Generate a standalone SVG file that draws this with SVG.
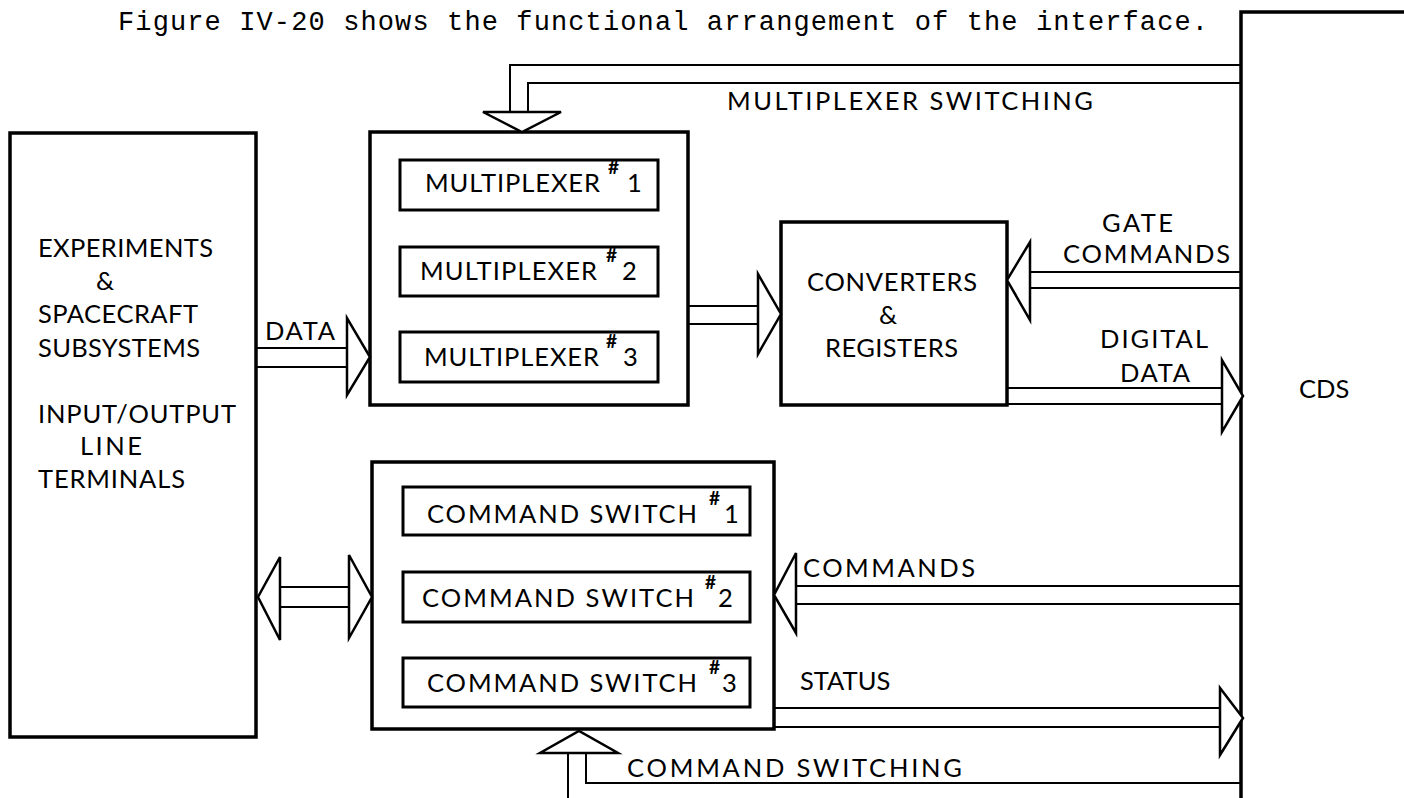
<svg xmlns="http://www.w3.org/2000/svg" width="1404" height="798" viewBox="0 0 1404 798">
<style>
.box{fill:none;stroke:#000;stroke-width:3.5}
.ibox{fill:none;stroke:#000;stroke-width:3}
.ln{fill:none;stroke:#000;stroke-width:2}
.tri{fill:#fff;stroke:#000;stroke-width:2.5;stroke-linejoin:miter}
.lbl{font-family:Lato,"Liberation Sans",sans-serif;font-size:25.5px;fill:#000}
.sup{font-size:19px;font-weight:bold}
.title{font-family:"Liberation Mono","Courier New",monospace;font-size:27px;fill:#000}
</style>
<rect width="1404" height="798" fill="#fff"/>
<text class="title" x="118" y="30" textLength="1090" lengthAdjust="spacing">Figure IV-20 shows the functional arrangement of the interface.</text>

<g id="experiments">
<rect class="box" x="10" y="133" width="246" height="604"/>
<text class="lbl" x="38" y="257" textLength="175" lengthAdjust="spacing">EXPERIMENTS</text>
<text class="lbl" x="105" y="290" text-anchor="middle">&amp;</text>
<text class="lbl" x="38" y="323" textLength="160" lengthAdjust="spacing">SPACECRAFT</text>
<text class="lbl" x="38" y="357" textLength="162" lengthAdjust="spacing">SUBSYSTEMS</text>
<text class="lbl" x="38" y="423" textLength="198" lengthAdjust="spacing">INPUT/OUTPUT</text>
<text class="lbl" x="80" y="455" textLength="62" lengthAdjust="spacing">LINE</text>
<text class="lbl" x="38" y="488" textLength="147" lengthAdjust="spacing">TERMINALS</text>
</g>

<g id="multiplexers">
<rect class="box" x="370" y="132" width="318" height="273"/>
<rect class="ibox" x="400" y="160" width="258" height="50"/>
<text class="lbl" x="425" y="192"><tspan textLength="175" lengthAdjust="spacing">MULTIPLEXER</tspan><tspan class="sup" x="608" y="174">#</tspan><tspan x="627" y="192">1</tspan></text>
<rect class="ibox" x="400" y="247" width="258" height="49"/>
<text class="lbl" x="420" y="280"><tspan textLength="177" lengthAdjust="spacing">MULTIPLEXER</tspan><tspan class="sup" x="606" y="262">#</tspan><tspan x="622" y="280">2</tspan></text>
<rect class="ibox" x="400" y="332" width="258" height="50"/>
<text class="lbl" x="424" y="366"><tspan textLength="175" lengthAdjust="spacing">MULTIPLEXER</tspan><tspan class="sup" x="606" y="348">#</tspan><tspan x="623" y="366">3</tspan></text>
</g>

<g id="converters">
<rect class="box" x="781" y="222" width="226" height="183"/>
<text class="lbl" x="807" y="291" textLength="170" lengthAdjust="spacing">CONVERTERS</text>
<text class="lbl" x="888" y="324" text-anchor="middle">&amp;</text>
<text class="lbl" x="825" y="357" textLength="133" lengthAdjust="spacing">REGISTERS</text>
</g>

<g id="cds">
<path class="box" d="M1406,12 H1241 V800"/>
<text class="lbl" x="1299" y="398">CDS</text>
</g>

<g id="command-switches">
<rect class="box" x="372" y="462" width="402" height="267"/>
<rect class="ibox" x="403" y="487" width="347" height="48"/>
<text class="lbl" x="427" y="523"><tspan textLength="270" lengthAdjust="spacing">COMMAND SWITCH</tspan><tspan class="sup" x="709" y="505">#</tspan><tspan x="724" y="523">1</tspan></text>
<rect class="ibox" x="403" y="572" width="347" height="50"/>
<text class="lbl" x="422" y="607"><tspan textLength="272" lengthAdjust="spacing">COMMAND SWITCH</tspan><tspan class="sup" x="705" y="589">#</tspan><tspan x="718" y="607">2</tspan></text>
<rect class="ibox" x="403" y="658" width="347" height="49"/>
<text class="lbl" x="427" y="692"><tspan textLength="270" lengthAdjust="spacing">COMMAND SWITCH</tspan><tspan class="sup" x="709" y="674">#</tspan><tspan x="722" y="692">3</tspan></text>
</g>

<g id="connectors">
<polyline class="ln" points="1241,65 510,65 510,112"/>
<polyline class="ln" points="1241,83 528,83 528,112"/>
<polygon class="tri" points="483,112 561,112 522,132"/>
<text class="lbl" x="727" y="110" textLength="366" lengthAdjust="spacing">MULTIPLEXER SWITCHING</text>
<line class="ln" x1="256" y1="348" x2="347" y2="348"/>
<line class="ln" x1="256" y1="367" x2="347" y2="367"/>
<polygon class="tri" points="347,318 347,395 370,357"/>
<text class="lbl" x="265" y="340" textLength="70" lengthAdjust="spacing">DATA</text>
<line class="ln" x1="688" y1="306" x2="758" y2="306"/>
<line class="ln" x1="688" y1="324" x2="758" y2="324"/>
<polygon class="tri" points="758,274 758,354 781,314"/>
<line class="ln" x1="1030" y1="272" x2="1241" y2="272"/>
<line class="ln" x1="1030" y1="288" x2="1241" y2="288"/>
<polygon class="tri" points="1030,242 1030,320 1007,280"/>
<text class="lbl" x="1102" y="232" textLength="71" lengthAdjust="spacing">GATE</text>
<text class="lbl" x="1063" y="263" textLength="167" lengthAdjust="spacing">COMMANDS</text>
<line class="ln" x1="1007" y1="388" x2="1222" y2="388"/>
<line class="ln" x1="1007" y1="404" x2="1222" y2="404"/>
<polygon class="tri" points="1222,360 1222,432 1243,396"/>
<text class="lbl" x="1100" y="348" textLength="108" lengthAdjust="spacing">DIGITAL</text>
<text class="lbl" x="1120" y="382" textLength="70" lengthAdjust="spacing">DATA</text>
<line class="ln" x1="280" y1="587" x2="349" y2="587"/>
<line class="ln" x1="280" y1="607" x2="349" y2="607"/>
<polygon class="tri" points="280,557 280,640 258,597"/>
<polygon class="tri" points="349,555 349,638 372,597"/>
<line class="ln" x1="796" y1="586" x2="1241" y2="586"/>
<line class="ln" x1="796" y1="604" x2="1241" y2="604"/>
<polygon class="tri" points="796,553 796,633 774,595"/>
<text class="lbl" x="803" y="577" textLength="172" lengthAdjust="spacing">COMMANDS</text>
<line class="ln" x1="774" y1="708" x2="1220" y2="708"/>
<line class="ln" x1="774" y1="727" x2="1220" y2="727"/>
<polygon class="tri" points="1220,688 1220,755 1243,718"/>
<text class="lbl" x="800" y="690">STATUS</text>
<line class="ln" x1="568" y1="753" x2="568" y2="800"/>
<polyline class="ln" points="586,753 586,783 1241,783"/>
<polygon class="tri" points="540,753 618,753 579,731"/>
<text class="lbl" x="627" y="777" textLength="335" lengthAdjust="spacing">COMMAND SWITCHING</text>
</g>
</svg>
